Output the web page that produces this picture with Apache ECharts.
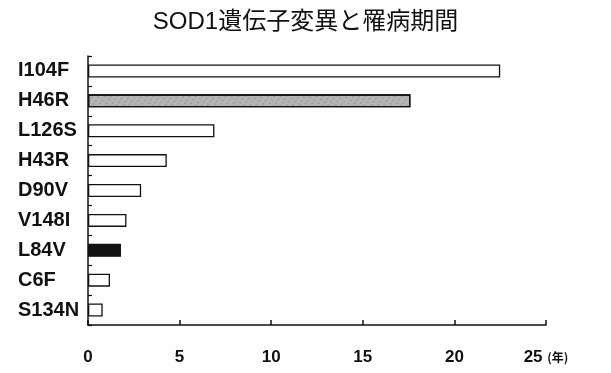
<!DOCTYPE html>
<html>
<head>
<meta charset="utf-8">
<script src="https://cdn.jsdelivr.net/npm/echarts@6/dist/echarts.min.js"></script>
<style>
  html, body { margin: 0; padding: 0; background: #fff; }
  #chart { width: 611px; height: 373px; }
</style>
</head>
<body>
<div id="chart"></div>
<script>
// 変異ごとの罹病期間（年）
var mutations = ['I104F', 'H46R', 'L126S', 'H43R', 'D90V', 'V148I', 'L84V', 'C6F', 'S134N'];
var years = [22.5, 17.6, 6.9, 4.3, 2.9, 2.1, 1.8, 1.2, 0.8];
var xTicks = [0, 5, 10, 15, 20, 25];

var chart = echarts.init(document.getElementById('chart'));

// H46Rは網掛け、L84Vは黒塗り、それ以外は白抜き
function barStyle(name) {
  var s = { color: '#fff', borderColor: '#111', borderWidth: 1.3 };
  if (name === 'H46R') {
    s.color = '#b4b4b4';
    s.decal = {
      symbol: 'rect',
      symbolSize: 0.6,
      color: 'rgba(40,40,40,0.45)',
      dashArrayX: [2, 3],
      dashArrayY: [2, 2],
      rotation: 0.6
    };
  }
  if (name === 'L84V') s.color = '#111';
  return s;
}

var option = {
  animation: false,
  title: {
    text: 'SOD1遺伝子変異と罹病期間',
    left: 'center',
    top: 5,
    textStyle: {
      fontFamily: '"Liberation Sans", "Noto Sans CJK JP", sans-serif',
      fontSize: 24,
      fontWeight: 'normal',
      color: '#111'
    }
  },
  grid: {
    left: 88,
    right: 65,
    top: 56,
    bottom: 48
  },
  xAxis: {
    type: 'value',
    min: 0,
    max: 25,
    interval: 5,
    axisLine: { show: true, lineStyle: { color: '#111', width: 1.5 } },
    axisTick: { show: true, inside: true, length: 5, lineStyle: { color: '#111', width: 1.5 } },
    splitLine: { show: false },
    axisLabel: {
      margin: 24,
      color: '#111',
      fontFamily: '"Liberation Sans", Arial, sans-serif',
      fontWeight: 'bold',
      fontSize: 17,
      formatter: function (v) {
        if (v === xTicks[xTicks.length - 1]) return v + ' {u|(年)}';
        return String(v);
      },
      rich: {
        u: { fontSize: 12, fontWeight: 'bold', color: '#111', fontFamily: '"Noto Sans CJK JP", sans-serif' }
      }
    }
  },
  yAxis: {
    type: 'category',
    inverse: true,
    data: mutations,
    axisLine: { show: true, lineStyle: { color: '#111', width: 1.5 } },
    axisTick: { show: true, inside: true, length: 4, lineStyle: { color: '#111', width: 1.2 } },
    axisLabel: {
      margin: 70,
      align: 'left',
      color: '#111',
      fontFamily: '"Liberation Sans", Arial, sans-serif',
      fontWeight: 'bold',
      fontSize: 20
    }
  },
  series: [{
    type: 'bar',
    barWidth: 13,
    data: years.map(function (v, i) {
      return { value: v, itemStyle: barStyle(mutations[i]) };
    })
  }]
};

chart.setOption(option);
</script>
</body>
</html>
